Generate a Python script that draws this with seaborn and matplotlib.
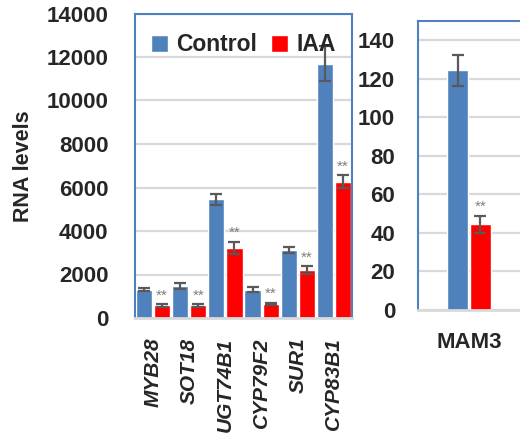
import matplotlib
matplotlib.use("Agg")
import matplotlib.pyplot as plt
import seaborn as sns
import pandas as pd
from matplotlib.patches import Rectangle

# Expression of glucosinolate pathway genes, control vs. IAA treatment
genes = ["MYB28", "SOT18", "UGT74B1", "CYP79F2", "SUR1", "CYP83B1"]
control_mean = [1300, 1480, 5450, 1300, 3130, 11700]
control_sd = [80, 150, 250, 110, 150, 800]
iaa_mean = [580, 580, 3230, 650, 2200, 6270]
iaa_sd = [60, 60, 280, 60, 180, 300]

mam3_gene = ["MAM3"]
mam3_control_mean = [124.5]
mam3_control_sd = [8]
mam3_iaa_mean = [44.5]
mam3_iaa_sd = [4.5]

left_ticks = [0, 2000, 4000, 6000, 8000, 10000, 12000, 14000]
right_ticks = [0, 20, 40, 60, 80, 100, 120, 140]
treatments = ["Control", "IAA"]

BLUE = "#4f81bd"
RED = "#ff0000"
GRID = "#d9d9d9"
ERR = "#595959"
FONT = "Liberation Sans"

sns.set_style("white")
plt.rcParams["font.family"] = [FONT, "DejaVu Sans"]
plt.rcParams["font.weight"] = "bold"

fig = plt.figure(figsize=(5.2, 4.41), dpi=100)
ax1 = fig.add_axes([135 / 520, 1 - 318 / 441, 217 / 520, (318 - 13.5) / 441])
ax2 = fig.add_axes([418 / 520, 1 - 310 / 441, 102 / 520, (310 - 21) / 441])


def frame(ax):
    ax.set_axisbelow(True)
    ax.yaxis.grid(True, color=GRID, linewidth=1.6)
    ax.xaxis.grid(False)
    for side in ("left", "top", "right"):
        ax.spines[side].set_color(BLUE)
        ax.spines[side].set_linewidth(1.5)
    ax.spines["bottom"].set_color(GRID)
    ax.spines["bottom"].set_linewidth(2)
    ax.set_xlabel("")


def draw_panel(ax, cats, c_mean, c_sd, i_mean, i_sd, width):
    df = pd.DataFrame({
        "gene": cats * 2,
        "treatment": [treatments[0]] * len(cats) + [treatments[1]] * len(cats),
        "value": list(c_mean) + list(i_mean),
    })
    sns.barplot(data=df, x="gene", y="value", hue="treatment",
                palette=[BLUE, RED], width=width, gap=0.11,
                errorbar=None, ax=ax, saturation=1, legend=True)
    # bars sorted left to right alternate control / IAA within each gene
    bars = sorted(
        [p for p in ax.patches
         if isinstance(p, Rectangle) and p.get_height() > 0
         and -0.6 < p.get_x() < len(cats)],
        key=lambda p: p.get_x())
    sds = [c_sd, i_sd]
    for k in range(2):
        group = bars[k::2]
        xs = [b.get_x() + b.get_width() / 2 for b in group]
        ys = [b.get_height() for b in group]
        ax.errorbar(xs, ys, yerr=sds[k], fmt="none", ecolor=ERR,
                    elinewidth=1.6, capsize=4.5, capthick=1.6, zorder=5)
        if k == 1:
            for x, y, s in zip(xs, ys, sds[k]):
                ax.annotate("**", (x, y + s), xytext=(0, 1),
                            textcoords="offset points", ha="center",
                            va="bottom", fontsize=11, color="#7f7f7f",
                            fontweight="normal")


# left panel
draw_panel(ax1, genes, control_mean, control_sd, iaa_mean, iaa_sd, 1.0)
frame(ax1)
ax1.set_xlim(-0.5, len(genes) - 0.5)
ax1.set_ylim(0, 14000)
ax1.set_yticks(left_ticks)
ax1.set_yticklabels([str(t) for t in left_ticks], fontsize=16, fontweight="bold")
ax1.set_xticks(range(len(genes)))
ax1.set_xticklabels(genes, rotation=90, fontsize=15, fontweight="bold",
                    fontstyle="italic")
ax1.tick_params(axis="y", length=0, pad=19)
ax1.tick_params(axis="x", length=0, pad=14)
ax1.set_ylabel("RNA levels", fontsize=15.5, fontweight="bold", labelpad=9)
handles, labels = ax1.get_legend_handles_labels()
ax1.legend(handles, labels, loc="upper left", bbox_to_anchor=(0.074, 0.935),
           ncol=2, frameon=False, handlelength=0.75,
           handleheight=0.75, handletextpad=0.35, columnspacing=0.6,
           borderaxespad=0, borderpad=0,
           prop={"family": FONT, "weight": "bold", "size": 16.5})

# right panel
draw_panel(ax2, mam3_gene, mam3_control_mean, mam3_control_sd,
           mam3_iaa_mean, mam3_iaa_sd, 0.45)
frame(ax2)
ax2.spines["right"].set_visible(False)
if ax2.get_legend() is not None:
    ax2.get_legend().remove()
ax2.set_xlim(-0.5, 0.5)
ax2.set_ylim(0, 150)
ax2.set_yticks(right_ticks)
ax2.set_yticklabels([str(t) for t in right_ticks], fontsize=16, fontweight="bold")
ax2.set_xticks([0])
ax2.set_xticklabels(mam3_gene, fontsize=16, fontweight="bold")
ax2.tick_params(axis="y", length=0, pad=16.5)
ax2.tick_params(axis="x", length=0, pad=16)
ax2.set_ylabel("")

fig.savefig("out.png", dpi=100)
